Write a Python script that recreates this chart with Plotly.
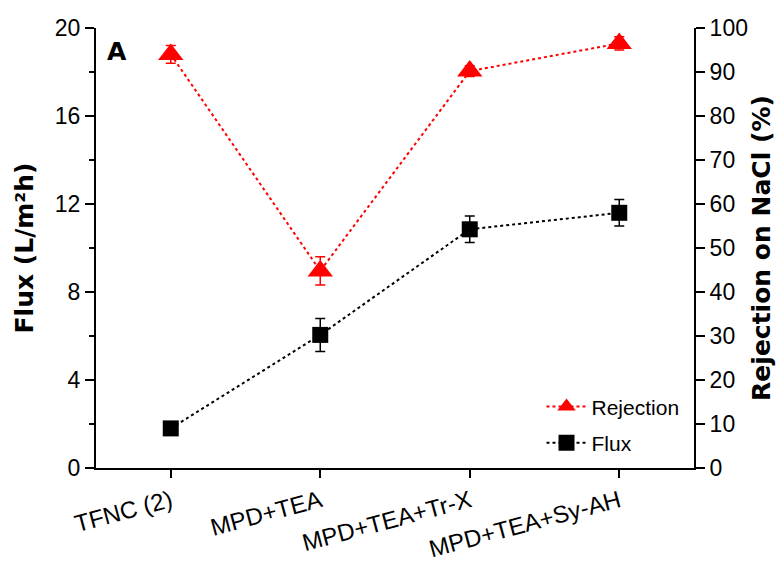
import plotly.graph_objects as go

# Membrane samples
categories = ["TFNC (2)", "MPD+TEA", "MPD+TEA+Tr-X", "MPD+TEA+Sy-AH"]

# Water flux (L/m2h) with standard deviation
flux = [1.8, 6.05, 10.85, 11.6]
flux_err = [0.25, 0.75, 0.6, 0.6]

# NaCl rejection (%) with standard deviation
rejection = [94.0, 44.8, 90.2, 96.5]
rejection_err = [2.0, 3.2, 1.2, 1.5]

xpos = list(range(len(categories)))
font_family = "Liberation Sans, Arial, sans-serif"
title_family = "DejaVu Sans, Liberation Sans, sans-serif"

fig = go.Figure()

fig.add_trace(go.Scatter(
    x=xpos, y=rejection, name="Rejection", yaxis="y2", legendgroup="rej",
    mode="lines+markers",
    line=dict(color="#ff0000", width=2, dash="dot"),
    marker=dict(symbol="triangle-up", size=22, color="#ff0000"),
    error_y=dict(type="data", array=rejection_err, color="#ff0000",
                 thickness=1.5, width=5),
))

fig.add_trace(go.Scatter(
    x=xpos, y=flux, name="Flux", yaxis="y", legendgroup="flux",
    mode="lines+markers",
    line=dict(color="#000000", width=2, dash="dot"),
    marker=dict(symbol="square", size=16, color="#000000"),
    error_y=dict(type="data", array=flux_err, color="#000000",
                 thickness=1.5, width=5),
))

fig.update_layout(
    width=779, height=563,
    margin=dict(l=96, r=85, t=28, b=95),
    paper_bgcolor="white", plot_bgcolor="white",
    font=dict(family=font_family, color="black", size=22),
    showlegend=True,
    legend=dict(
        x=0.745, y=0.098, xanchor="left", yanchor="middle",
        bgcolor="rgba(0,0,0,0)", borderwidth=0,
        font=dict(size=21, family=font_family),
        itemwidth=40, tracegroupgap=6,
    ),
    xaxis=dict(
        range=[-0.5, 3.5], tickmode="array", tickvals=xpos, ticktext=categories,
        tickangle=-15, ticks="outside", ticklen=8, tickwidth=2, tickcolor="black",
        showline=True, linewidth=2, linecolor="black", showgrid=False,
        zeroline=False, tickfont=dict(size=24), automargin=False,
    ),
    xaxis2=dict(
        overlaying="x", side="top", anchor="y", matches="x",
        range=[-0.5, 3.5], tickmode="linear", tick0=-0.5, dtick=0.5,
        ticks="inside", ticklen=5, tickwidth=1.5, tickcolor="black",
        showticklabels=False, showline=True, linewidth=2, linecolor="black",
        showgrid=False, zeroline=False, automargin=False,
    ),
    yaxis=dict(
        range=[0, 20], tickmode="linear", tick0=0, dtick=4,
        ticks="outside", ticklen=9, tickwidth=2, tickcolor="black",
        minor=dict(ticks="outside", dtick=2, ticklen=5, tickwidth=1.5,
                   tickcolor="black", showgrid=False),
        showline=True, linewidth=2, linecolor="black", showgrid=False,
        zeroline=False, tickfont=dict(size=23), automargin=False,
        title=dict(text="<b>Flux (L/m²h)</b>",
                   font=dict(size=25, family=title_family), standoff=14),
    ),
    yaxis2=dict(
        overlaying="y", side="right", anchor="x",
        range=[0, 100], tickmode="linear", tick0=0, dtick=10,
        ticks="outside", ticklen=9, tickwidth=2, tickcolor="black",
        showline=True, linewidth=2, linecolor="black", showgrid=False,
        zeroline=False, tickfont=dict(size=23), automargin=False,
        title=dict(text="<b>Rejection on NaCl (%)</b>",
                   font=dict(size=25, family=title_family), standoff=6),
    ),
    annotations=[dict(
        text="<b>A</b>", x=0.015, y=0.985, xref="paper", yref="paper",
        xanchor="left", yanchor="top", showarrow=False,
        font=dict(size=25, family=title_family, color="black"),
    )],
)

fig.write_html("out.html")
